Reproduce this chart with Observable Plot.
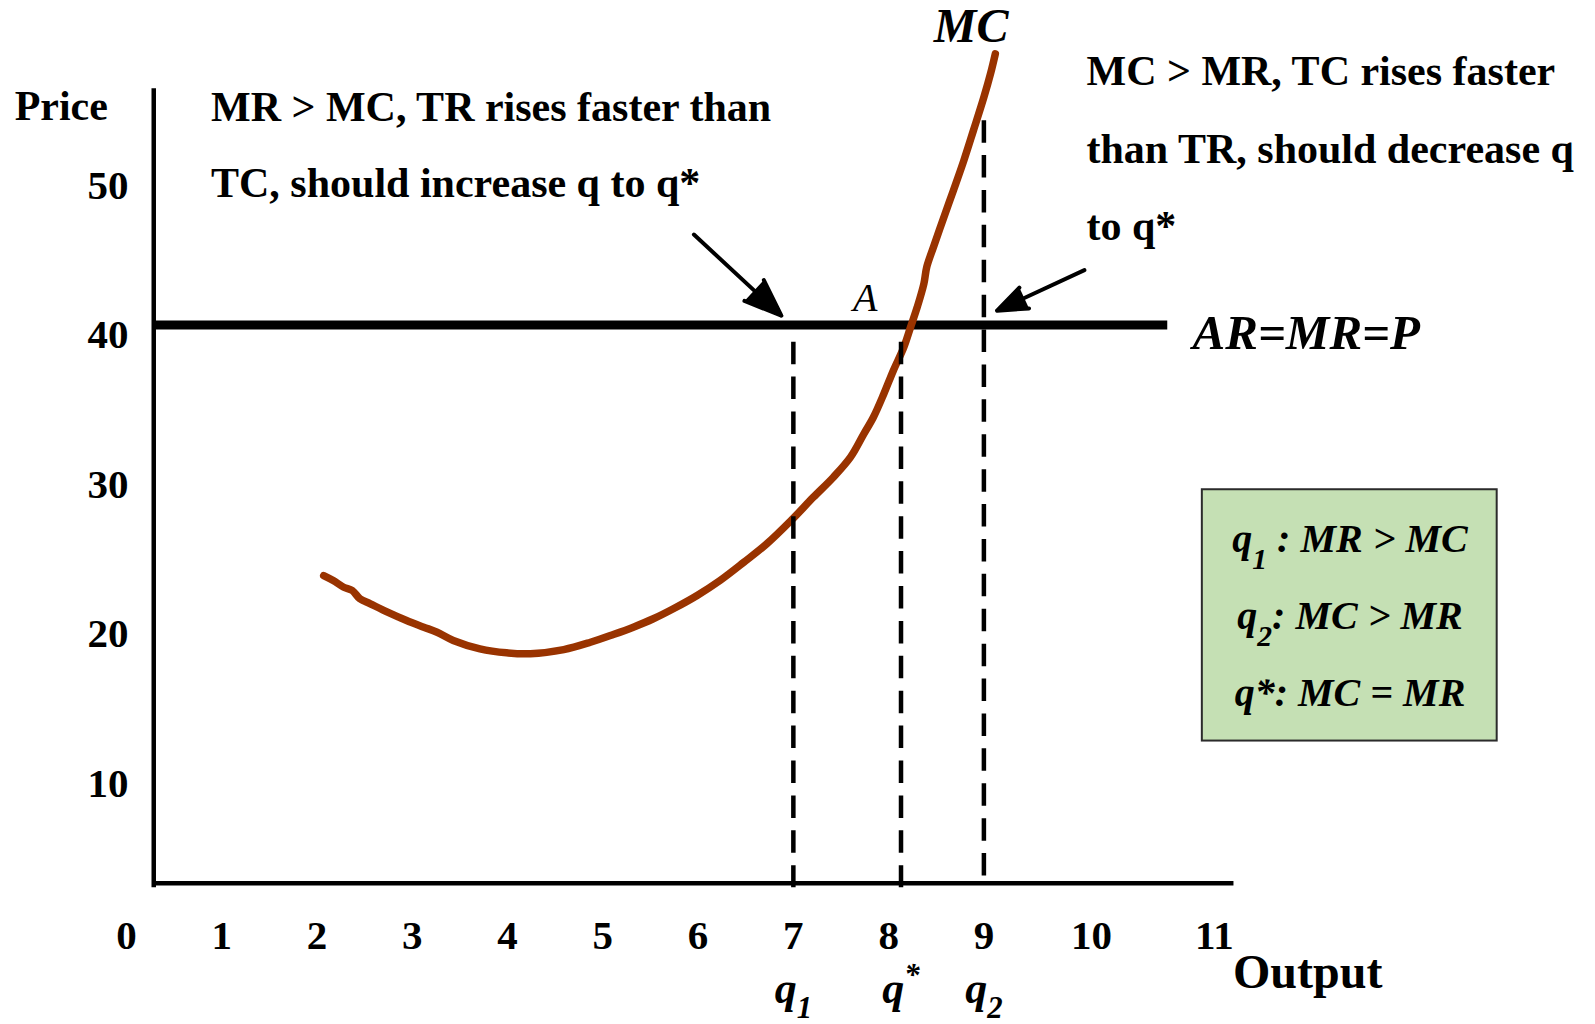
<!DOCTYPE html>
<html>
<head>
<meta charset="utf-8">
<script src="https://cdn.jsdelivr.net/npm/d3@7"></script>
<script src="https://cdn.jsdelivr.net/npm/@observablehq/plot@0.6"></script>
<style>
  html, body { margin: 0; padding: 0; background: #ffffff; overflow: hidden; }
  #chart svg { display: block; }
</style>
</head>
<body>
<div id="chart"></div>
<script>
// ---------------- data ----------------
// Marginal cost curve (output q, price)
const mcQ = [2.07, 2.17, 2.28, 2.37, 2.45, 2.56, 2.74, 2.94, 3.12, 3.26, 3.43, 3.71, 3.99, 4.24, 4.59, 4.87, 5.11, 5.32, 5.53, 5.74, 5.99, 6.23, 6.48, 6.72, 6.98, 7.21, 7.42, 7.60, 7.74, 7.84, 7.95, 8.05, 8.16, 8.23, 8.30, 8.37, 8.40, 8.47, 8.58, 8.68, 8.79, 8.89, 9.00, 9.07, 9.12];
const mcP = [23.24, 22.91, 22.46, 22.24, 21.69, 21.35, 20.79, 20.23, 19.79, 19.45, 18.90, 18.34, 18.07, 18.01, 18.29, 18.78, 19.30, 19.79, 20.35, 21.02, 21.91, 22.91, 24.13, 25.36, 26.95, 28.48, 29.82, 31.16, 32.72, 33.83, 35.40, 36.96, 38.52, 39.85, 41.19, 42.76, 43.87, 45.20, 47.21, 49.00, 51.01, 53.01, 55.24, 56.82, 58.14];

// Price line AR = MR = P
const price = 40;
const arStartQ = 0.30;
const arEndQ = 10.93;

// Reference output levels (q1, q*, q2) and the top of each dashed guide
const guideQ = [7, 8.13, 9];
const guideTop = [38.85, 38.85, 53.67];
const guideLabels = ["q_1", "q^*", "q_2"];

// Axis frame
const axisOriginQ = 0.286;
const axisBottomP = 2.66;
const axisTopP = 55.8;
const axisRightQ = 11.625;
const guideBottomP = 2.35;

// Tick labels
const xTickPos = [0, 1, 2, 3, 4, 5, 6, 7, 8, 9, 10.13, 11.42];
const xTickLabels = ["0", "1", "2", "3", "4", "5", "6", "7", "8", "9", "10", "11"];
const yTicks = [10, 20, 30, 40, 50];

// Annotation texts
const leftNote = ["MR > MC, TR rises faster than", "TC, should increase q to q*"];
const leftNoteQ = 0.887;
const leftNoteP = [54.55, 49.46];
const rightNote = ["MC > MR, TC rises faster", "than TR, should decrease q", "to q*"];
const rightNoteQ = 10.077;
const rightNoteP = [56.96, 51.71, 46.59];

// Arrows pointing at the price line
const arrowFromQ = [5.956, 10.055];
const arrowFromP = [46.05, 43.67];
const arrowToQ = [6.874, 9.138];
const arrowToP = [40.62, 40.96];

// Legend box
const boxQ = [11.293, 14.388];
const boxP = [12.17, 28.98];
const boxLines = ["q_1 : MR > MC", "q_2: MC > MR", "q*: MC = MR"];
const boxLineP = [25.65, 20.54, 15.37];
const boxCenterQ = 12.843;

// Labels
const labelRows = [
  {q: 8.866, p: 59.97, text: "MC", size: 48, style: "italic", weight: "bold", anchor: "middle"},
  {q: 7.753, p: 41.77, text: "A", size: 40, style: "italic", weight: "normal", anchor: "middle"},
  {q: 11.19, p: 39.43, text: "AR=MR=P", size: 49, style: "italic", weight: "bold", anchor: "start"},
  {q: 11.615, p: -3.30, text: "Output", size: 48, style: "normal", weight: "bold", anchor: "start"},
  {q: -1.174, p: 54.60, text: "Price", size: 42, style: "normal", weight: "bold", anchor: "start"}
];
const qLabelP = -5.35;

// ---------------- build tables ----------------
const mcRows = mcQ.map((q, i) => ({q, p: mcP[i]}));
const guideRows = guideQ.map((q, i) => ({q, top: guideTop[i], label: guideLabels[i]}));
const leftRows = leftNote.map((t, i) => ({text: t, q: leftNoteQ, p: leftNoteP[i]}));
const rightRows = rightNote.map((t, i) => ({text: t, q: rightNoteQ, p: rightNoteP[i]}));
const arrowRows = arrowFromQ.map((q, i) => ({q1: q, p1: arrowFromP[i], q2: arrowToQ[i], p2: arrowToP[i]}));
const boxRows = [{q1: boxQ[0], q2: boxQ[1], p1: boxP[0], p2: boxP[1]}];
const boxTextRows = boxLines.map((t, i) => ({text: t, q: boxCenterQ, p: boxLineP[i]}));

const SERIF = "'Liberation Serif', 'Times New Roman', Times, serif";
const BROWN = "#993300";

const textMarks = labelRows.map(r => Plot.text([r], {
  x: "q", y: "p", text: "text", fontSize: r.size, fontStyle: r.style, fontWeight: r.weight,
  textAnchor: r.anchor, lineAnchor: "middle", fill: "black"
}));

const plot = Plot.plot({
  width: 1595,
  height: 1024,
  marginLeft: 126,
  marginRight: 0,
  marginTop: 25.5,
  marginBottom: 101.5,
  x: {domain: [0, 15.42]},
  y: {domain: [0, 60]},
  style: {fontFamily: SERIF, background: "white", overflow: "visible", color: "black"},
  marks: [
    // legend box
    Plot.rect(boxRows, {x1: "q1", x2: "q2", y1: "p1", y2: "p2", fill: "#c5e0b4", stroke: "#2b2b2b", strokeWidth: 2}),
    // axes lines
    Plot.ruleX([axisOriginQ], {y1: guideBottomP, y2: axisTopP, stroke: "black", strokeWidth: 4.5}),
    Plot.ruleY([axisBottomP], {x1: axisOriginQ, x2: axisRightQ, stroke: "black", strokeWidth: 4.5}),
    // price line
    Plot.ruleY([price], {x1: arStartQ, x2: arEndQ, stroke: "black", strokeWidth: 9}),
    // MC curve
    Plot.line(mcRows, {x: "q", y: "p", stroke: BROWN, strokeWidth: 7.5, curve: "catmull-rom",
      strokeLinecap: "round", strokeLinejoin: "round"}),
    // dashed guides (drawn from the top down)
    Plot.ruleX(guideRows, {x: "q", y1: "top", y2: guideBottomP, stroke: "black", strokeWidth: 4.5,
      strokeDasharray: "22.5,12.4"}),
    // arrows
    Plot.arrow(arrowRows, {x1: "q1", y1: "p1", x2: "q2", y2: "p2", stroke: "black", fill: "black",
      strokeWidth: 4, headLength: 24, headAngle: 42, strokeLinejoin: "miter"}),
    // axes tick labels
    Plot.axisX({ticks: xTickPos, tickFormat: d => xTickLabels[xTickPos.indexOf(d)], tickSize: 0,
      tickPadding: 12.5, lineAnchor: "middle", fontSize: 41, fontWeight: "bold", label: null}),
    Plot.axisY({ticks: yTicks, tickSize: 0, tickPadding: 0, dx: 2, dy: 10, fontSize: 41,
      fontWeight: "bold", label: null}),
    // q labels under the axis
    Plot.text(guideRows, {x: "q", y: qLabelP, text: "label", fontSize: 44, fontStyle: "italic",
      fontWeight: "bold", textAnchor: "middle", lineAnchor: "bottom"}),
    // notes
    Plot.text(leftRows, {x: "q", y: "p", text: "text", fontSize: 42, fontWeight: "bold",
      textAnchor: "start", lineAnchor: "middle"}),
    Plot.text(rightRows, {x: "q", y: "p", text: "text", fontSize: 42, fontWeight: "bold",
      textAnchor: "start", lineAnchor: "middle"}),
    // box text
    Plot.text(boxTextRows, {x: "q", y: "p", text: "text", fontSize: 40, fontStyle: "italic",
      fontWeight: "bold", textAnchor: "middle", lineAnchor: "middle"}),
    ...textMarks
  ]
});

// Fill the arrowheads (the chevron subpath closes into a solid triangle)
plot.querySelectorAll("g[aria-label='arrow'] path").forEach(p => {
  p.setAttribute("fill", "black");
  p.setAttribute("stroke-linejoin", "miter");
});

// Turn "q_1" / "q^*" notations into sub/superscript tspans
const ns = "http://www.w3.org/2000/svg";
plot.querySelectorAll("text").forEach(t => {
  const m = t.textContent.match(/^([^_^]*)([_^])(.)(.*)$/);
  if (!m) return;
  const holder = t.closest("[font-size]");
  const F = holder ? parseFloat(holder.getAttribute("font-size")) : 40;
  const [, head, kind, mark, rest] = m;
  const isAxis = rest === "";
  const shift = kind === "_" ? (isAxis ? 0.33 : 0.42) * F : -(0.42 * F);
  const size = (isAxis ? 0.7 : 0.74) * F;
  t.textContent = "";
  t.appendChild(document.createTextNode(head));
  const s = document.createElementNS(ns, "tspan");
  s.setAttribute("dy", shift);
  s.setAttribute("font-size", size);
  s.setAttribute("font-style", "italic");
  s.textContent = mark;
  t.appendChild(s);
  if (rest) {
    const r = document.createElementNS(ns, "tspan");
    r.setAttribute("dy", -shift);
    r.setAttribute("font-size", F);
    r.textContent = rest;
    t.appendChild(r);
  }
});

document.getElementById("chart").appendChild(plot);
</script>
</body>
</html>
